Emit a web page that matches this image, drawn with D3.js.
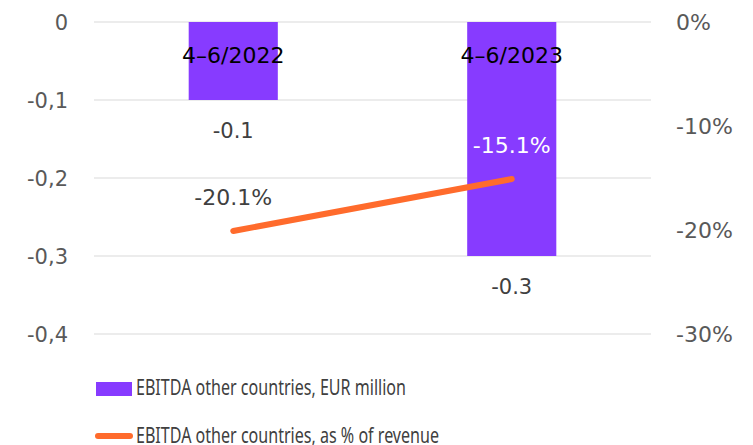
<!DOCTYPE html>
<html>
<head>
<meta charset="utf-8">
<script src="https://cdn.jsdelivr.net/npm/d3@7"></script>
<style>
  body { margin: 0; background: #fff; }
  text { font-family: "DejaVu Sans", sans-serif; }
  .legend text { font-family: "Noto Sans", sans-serif; }
</style>
</head>
<body>
<div id="chart"></div>
<script>
const categories = ["4–6/2022", "4–6/2023"];
const ebitdaValues = [-0.1, -0.3];
const ebitdaLabels = ["-0.1", "-0.3"];
const pctValues = [-20.1, -15.1];
const pctLabels = ["-20.1%", "-15.1%"];
const leftTicks = [0, -0.1, -0.2, -0.3, -0.4];
const leftTickLabels = ["0", "-0,1", "-0,2", "-0,3", "-0,4"];
const rightTicks = [0, -10, -20, -30];
const rightTickLabels = ["0%", "-10%", "-20%", "-30%"];
const seriesNames = ["EBITDA other countries, EUR million", "EBITDA other countries, as % of revenue"];

const width = 753, height = 445;
const margin = {top: 22, left: 94, right: 102, bottom: 111};
const purple = "#873bff", orange = "#ff6b2c";

const svg = d3.select("#chart").append("svg")
  .attr("width", width)
  .attr("height", height);

const x = d3.scaleBand()
  .domain(categories)
  .range([margin.left, width - margin.right])
  .paddingInner(0.68)
  .paddingOuter(0.34);

const y = d3.scaleLinear()
  .domain([0, -0.4])
  .range([margin.top, height - margin.bottom]);

const y2 = d3.scaleLinear()
  .domain([0, -30])
  .range([margin.top, height - margin.bottom]);

const cx = i => x(categories[i]) + x.bandwidth() / 2;

// gridlines
svg.append("g")
  .selectAll("line")
  .data(leftTicks)
  .enter()
  .append("line")
  .attr("x1", margin.left)
  .attr("x2", width - margin.right)
  .attr("y1", d => y(d))
  .attr("y2", d => y(d))
  .attr("stroke", "#e6e6e6")
  .attr("stroke-width", 1.5);

// left axis labels
svg.append("g")
  .selectAll("text")
  .data(leftTicks)
  .enter()
  .append("text")
  .attr("x", 68)
  .attr("y", d => y(d))
  .attr("dy", "0.36em")
  .attr("text-anchor", "end")
  .attr("fill", "#595959")
  .style("font-size", "21px")
  .text((d, i) => leftTickLabels[i]);

// right axis labels
svg.append("g")
  .selectAll("text")
  .data(rightTicks)
  .enter()
  .append("text")
  .attr("x", 676)
  .attr("y", d => y2(d))
  .attr("dy", "0.36em")
  .attr("fill", "#595959")
  .style("font-size", "22px")
  .text((d, i) => rightTickLabels[i]);

// bars
svg.append("g")
  .selectAll("rect")
  .data(ebitdaValues)
  .enter()
  .append("rect")
  .attr("x", (d, i) => x(categories[i]))
  .attr("width", x.bandwidth())
  .attr("y", y(0))
  .attr("height", d => y(d) - y(0))
  .attr("fill", purple);

// category labels
svg.append("g")
  .selectAll("text")
  .data(categories)
  .enter()
  .append("text")
  .attr("x", (d, i) => cx(i))
  .attr("y", 55)
  .attr("dy", "0.36em")
  .attr("text-anchor", "middle")
  .attr("fill", "#000")
  .style("font-size", "22px")
  .text(d => d);

// bar value labels
svg.append("g")
  .selectAll("text")
  .data(ebitdaValues)
  .enter()
  .append("text")
  .attr("x", (d, i) => cx(i))
  .attr("y", d => y(d) + 30)
  .attr("dy", "0.36em")
  .attr("text-anchor", "middle")
  .attr("fill", "#404040")
  .style("font-size", "21px")
  .text((d, i) => ebitdaLabels[i]);

// line
const line = d3.line()
  .x((d, i) => cx(i))
  .y(d => y2(d));

svg.append("path")
  .datum(pctValues)
  .attr("d", line)
  .attr("fill", "none")
  .attr("stroke", orange)
  .attr("stroke-width", 6)
  .attr("stroke-linecap", "round");

// line labels
svg.append("g")
  .selectAll("text")
  .data(pctValues)
  .enter()
  .append("text")
  .attr("x", (d, i) => cx(i))
  .attr("y", d => y2(d) - 34)
  .attr("dy", "0.36em")
  .attr("text-anchor", "middle")
  .attr("fill", (d, i) => i === 1 ? "#fff" : "#404040")
  .style("font-size", "22px")
  .text((d, i) => pctLabels[i]);

// legend
const legend = svg.append("g").attr("class", "legend");
legend.append("rect")
  .attr("x", 96).attr("y", 382)
  .attr("width", 36).attr("height", 14)
  .attr("fill", purple);
legend.append("line")
  .attr("x1", 98).attr("x2", 130)
  .attr("y1", 436).attr("y2", 436)
  .attr("stroke", orange)
  .attr("stroke-width", 6)
  .attr("stroke-linecap", "round");
legend.selectAll("text")
  .data(seriesNames)
  .enter()
  .append("text")
  .attr("x", 136)
  .attr("y", (d, i) => i === 0 ? 387 : 435)
  .attr("dy", "0.36em")
  .attr("fill", "#404040")
  .style("font-size", "22px")
  .attr("textLength", (d, i) => i === 0 ? 270 : 303)
  .attr("lengthAdjust", "spacingAndGlyphs")
  .text(d => d);
</script>
</body>
</html>
